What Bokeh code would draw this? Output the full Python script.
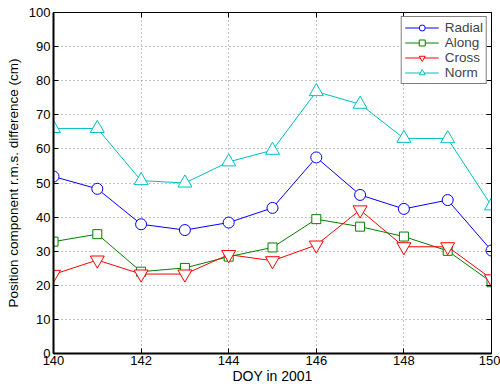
from bokeh.plotting import figure
from bokeh.models import LinearAxis, FixedTicker, Range1d, Legend, LegendItem
from bokeh.embed import file_html
from bokeh.resources import INLINE

doy = [140, 141, 142, 143, 144, 145, 146, 147, 148, 149, 150]
radial = [51.9, 48.3, 37.9, 36.2, 38.4, 42.7, 57.5, 46.5, 42.4, 45.0, 30.2]
along = [32.8, 35.0, 24.0, 25.1, 28.4, 31.1, 39.4, 37.2, 34.3, 30.1, 20.9]
cross = [23.2, 27.4, 23.3, 23.3, 29.0, 27.2, 31.8, 42.1, 31.3, 31.3, 21.9]
norm = [66.0, 66.0, 50.7, 50.0, 56.2, 59.6, 76.8, 73.1, 63.1, 63.0, 43.3]
x_ticks = [140, 142, 144, 146, 148, 150]
y_ticks = [0, 10, 20, 30, 40, 50, 60, 70, 80, 90, 100]

FONT = "Liberation Sans"

p = figure(width=500, height=389, output_backend="svg", toolbar_location=None,
           x_range=Range1d(140, 150), y_range=Range1d(0, 100),
           min_border_left=53, min_border_right=9, min_border_top=12, min_border_bottom=36)
p.background_fill_color = "white"
p.border_fill_color = "white"
p.outline_line_color = "black"
p.outline_line_width = 1

for ax in [p.xaxis[0], p.yaxis[0]]:
    ax.major_tick_in = 5
    ax.major_tick_out = 0
    ax.minor_tick_line_color = None
    ax.major_label_text_font = FONT
    ax.major_label_text_font_size = "13px"
    ax.major_label_text_color = "black"
    ax.axis_label_text_font = FONT
    ax.axis_label_text_font_style = "normal"
    ax.axis_label_text_color = "black"
    ax.axis_line_width = 2
    ax.major_tick_line_width = 1

p.xaxis[0].ticker = FixedTicker(ticks=x_ticks)
p.yaxis[0].ticker = FixedTicker(ticks=y_ticks)
p.xaxis[0].axis_label = "DOY in 2001"
p.xaxis[0].axis_label_text_font_size = "14px"
p.xaxis[0].major_label_standoff = 2
p.xaxis[0].axis_label_standoff = 0
p.yaxis[0].axis_label = "Position component r.m.s. difference (cm)"
p.yaxis[0].axis_label_text_font_size = "13.5px"
p.yaxis[0].major_label_standoff = 3
p.yaxis[0].axis_label_standoff = 5

for loc, tk in [("above", x_ticks), ("right", y_ticks)]:
    a = LinearAxis(ticker=FixedTicker(ticks=tk), major_label_text_font_size="0px",
                   major_tick_in=5, major_tick_out=0, minor_tick_line_color=None,
                   axis_line_color="black")
    a.major_label_text_color = None
    p.add_layout(a, loc)

p.xgrid[0].ticker = FixedTicker(ticks=x_ticks)
p.ygrid[0].ticker = FixedTicker(ticks=y_ticks)
p.grid.grid_line_color = "#888888"
p.grid.grid_line_dash = "1 3"
p.grid.grid_line_width = 1

series = [
    ("Radial", radial, "#0000FF", "circle", 11),
    ("Along", along, "#008000", "square", 9),
    ("Cross", cross, "#FF0000", "inverted_triangle", 14),
    ("Norm", norm, "#00BFBF", "triangle", 14),
]
items = []
for name, ys, col, mk, sz in series:
    l = p.line(doy, ys, line_color=col, line_width=1)
    s = p.scatter(doy, ys, marker=mk, size=sz, line_color=col, fill_color="white", line_width=1)
    items.append(LegendItem(label=name, renderers=[l, s]))

leg = Legend(items=items, location="top_right")
leg.margin = 4
leg.padding = 3
leg.spacing = 0
leg.glyph_width = 34
leg.glyph_height = 15
leg.label_height = 15
leg.label_standoff = 6
leg.label_text_font = FONT
leg.label_text_font_size = "13.5px"
leg.border_line_color = "black"
leg.border_line_width = 1.5
leg.background_fill_alpha = 1
p.add_layout(leg, "center")

open("out.html", "w").write(file_html(p, INLINE))
